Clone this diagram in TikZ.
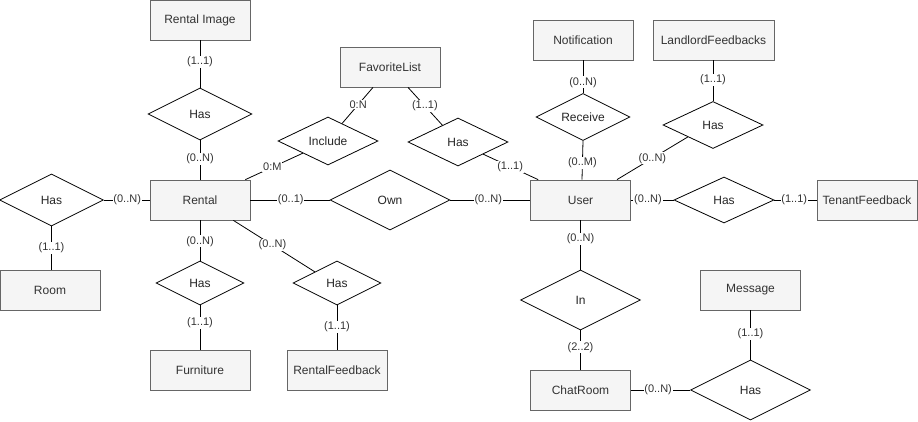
\documentclass[tikz,border=0pt]{standalone}
\usepackage{fontspec}
\setmainfont{Liberation Sans}
\usetikzlibrary{shapes.geometric,calc}
\definecolor{entfill}{HTML}{F5F5F5}
\definecolor{entdraw}{HTML}{666666}
\definecolor{enttext}{HTML}{333333}
\begin{document}
\begin{tikzpicture}[x=1pt,y=-1pt,
  ent/.style={draw=entdraw,fill=entfill,text=enttext,minimum width=100pt,minimum height=40pt,inner sep=0pt,line width=0.8pt,font=\fontsize{12}{14}\selectfont},
  rel/.style={draw=black,fill=white,diamond,aspect=2,inner sep=0pt,line width=0.8pt,font=\fontsize{12}{14}\selectfont,text=black!85},
  lbl/.style={fill=white,inner sep=0.8pt,text=enttext,font=\fontsize{11}{13}\selectfont},
  conn/.style={draw=black,line width=0.8pt}]
\useasboundingbox (0,0) rectangle (918,422);
% entities
\node[ent] (rimg) at (200,20) {Rental Image};
\node[ent] (rental) at (200,200) {Rental};
\node[ent] (fav) at (390,67) {FavoriteList};
\node[ent] (notif) at (583,40) {Notification};
\node[ent,minimum width=121pt] (landlord) at (713.5,40) {LandlordFeedbacks};
\node[ent] (user) at (580.5,200) {User};
\node[ent] (tenant) at (867,200) {TenantFeedback};
\node[ent] (room) at (50,290) {Room};
\node[ent] (furn) at (200,370) {Furniture};
\node[ent] (rfb) at (337,370) {RentalFeedback};
\node[ent] (chat) at (580.5,390) {ChatRoom};
\node[ent] (msg) at (750.5,290) {Message};
% relationships
\node[rel,minimum width=104pt,minimum height=52pt] (hasimg) at (200,114) {Has};
\node[rel,minimum width=104pt,minimum height=52pt] (hasroom) at (51.5,200) {Has};
\node[rel,minimum width=100pt,minimum height=48pt] (incl) at (328,141) {Include};
\node[rel,minimum width=100pt,minimum height=48pt] (hasfav) at (458,142) {Has};
\node[rel,minimum width=120pt,minimum height=60pt] (own) at (390,200) {Own};
\node[rel,minimum width=94pt,minimum height=47pt] (recv) at (583,117) {Receive};
\node[rel,minimum width=100pt,minimum height=47pt] (hasll) at (713,125) {Has};
\node[rel,minimum width=100pt,minimum height=46pt] (hasten) at (724,200) {Has};
\node[rel,minimum width=120pt,minimum height=60pt] (inrel) at (580.5,300) {In};
\node[rel,minimum width=120pt,minimum height=60pt] (hasmsg) at (750.5,390) {Has};
\node[rel,minimum width=88pt,minimum height=44pt] (hasfurn) at (200,283) {Has};
\node[rel,minimum width=88pt,minimum height=44pt] (hasrfb) at (337,283) {Has};
% connectors
\path[conn] (rimg.south) -- node[lbl,pos=0.46] {(1..1)} (hasimg.north);
\path[conn] (hasimg.south) -- node[lbl,pos=0.475] {(0..N)} (rental.north);
\path[conn] ($(rental.north east)+(-5,0)$) -- node[lbl,pos=0.47] {0:M} (incl.south west);
\path[conn] ($(incl.north)!0.28!(incl.east)$) -- node[lbl,pos=0.52] {0:N} ($(fav.south)+(-17,0)$);
\path[conn] ($(fav.south)+(18,0)$) -- node[lbl,pos=0.49] {(1..1)} ($(hasfav.west)!0.69!(hasfav.north)$);
\path[conn] (hasfav.south east) -- node[lbl,pos=0.49] {(1..1)} ($(user.north west)+(8,0)$);
\path[conn] (hasroom.east) -- node[lbl,pos=0.51] {(0..N)} (rental.west);
\path[conn] (hasroom.south) -- node[lbl,pos=0.5] {(1..1)} (hasroom.south |- room.north);
\path[conn] (rental.east) -- node[lbl,pos=0.51] {(0..1)} (own.west);
\path[conn] (own.east) -- node[lbl,pos=0.475] {(0..N)} (user.west);
\path[conn] (notif.south) -- node[lbl,pos=0.67] {(0..N)} (recv.north);
\path[conn] (recv.south) -- node[lbl,pos=0.575] {(0..M)} ($(user.north)+(1.5,0)$);
\path[conn] (landlord.south -| hasll.north) -- node[lbl,pos=0.48] {(1..1)} (hasll.north);
\path[conn] (hasll.south west) -- node[lbl,pos=0.5] {(0..N)} ($(user.north)+(36.5,0)$);
\path[conn] (user.east) -- node[lbl,pos=0.4] {(0..N)} (hasten.west);
\path[conn] (hasten.east) -- node[lbl,pos=0.47] {(1..1)} (tenant.west);
\path[conn] (user.south) -- node[lbl,pos=0.38] {(0..N)} (inrel.north);
\path[conn] (inrel.south) -- node[lbl,pos=0.43] {(2..2)} (chat.north);
\path[conn] (msg.south) -- node[lbl,pos=0.48] {(1..1)} (hasmsg.north);
\path[conn] (chat.east) -- node[lbl,pos=0.46] {(0..N)} (hasmsg.west);
\path[conn] (rental.south) -- node[lbl,pos=0.52] {(0..N)} (hasfurn.north);
\path[conn] (hasfurn.south) -- node[lbl,pos=0.4] {(1..1)} (furn.north);
\path[conn] ($(rental.south east)+(-17,0)$) -- node[lbl,pos=0.48] {(0..N)} (hasrfb.north west);
\path[conn] (hasrfb.south) -- node[lbl,pos=0.49] {(1..1)} (rfb.north);
\end{tikzpicture}
\end{document}
